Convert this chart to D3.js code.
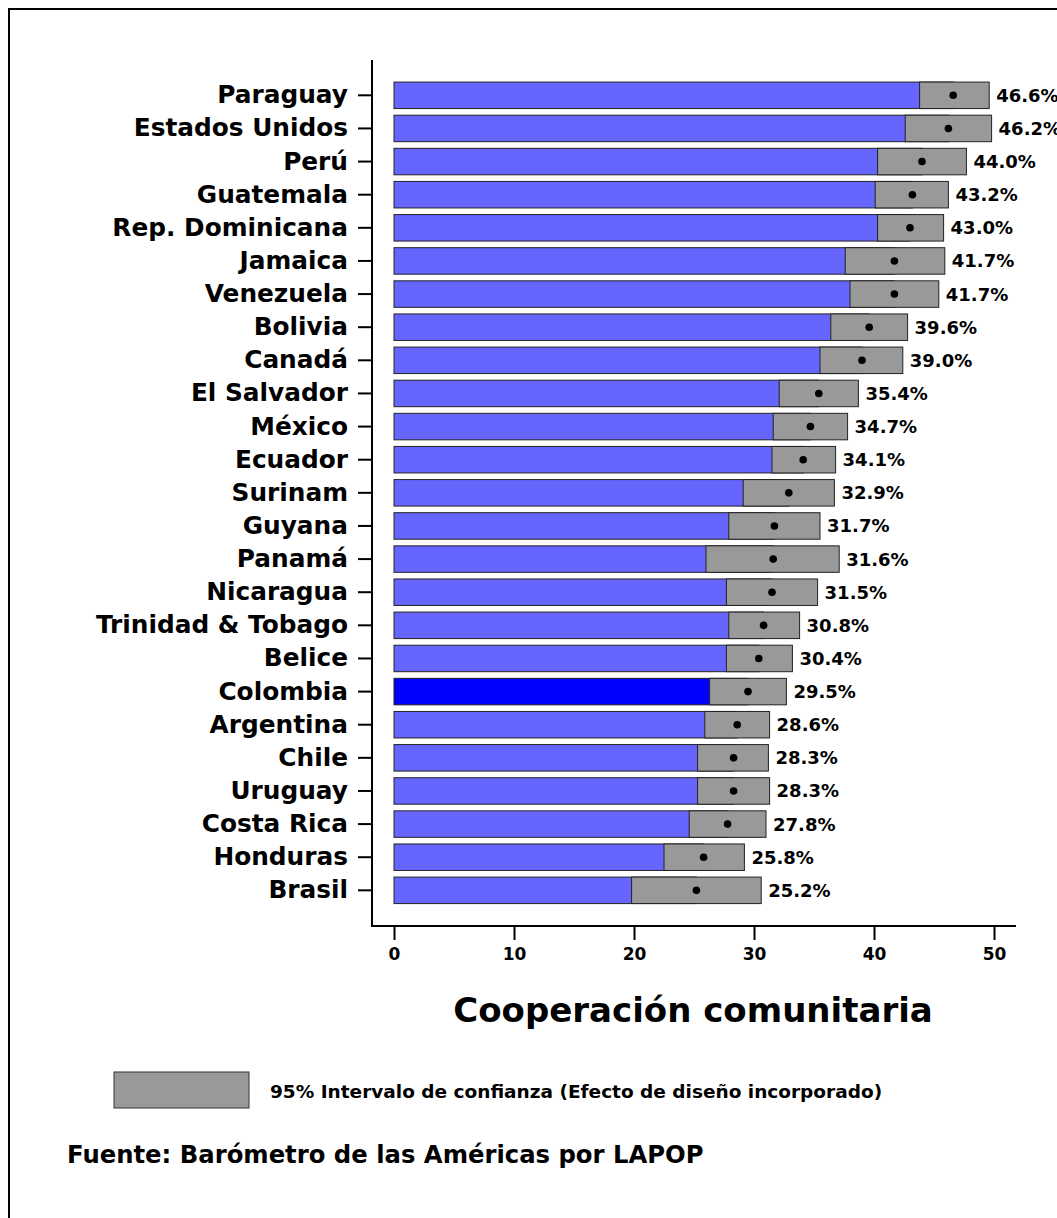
<!DOCTYPE html>
<html>
<head>
<meta charset="utf-8">
<script src="https://cdn.jsdelivr.net/npm/d3@7"></script>
<style>
  html, body { margin: 0; padding: 0; background: #fff; }
  svg { display: block; }
  text { font-family: "DejaVu Sans", Verdana, sans-serif; font-weight: bold; fill: #000; }
</style>
</head>
<body>
<svg id="chart" width="1057" height="1218"></svg>
<script>
const countries = ["Paraguay","Estados Unidos","Perú","Guatemala","Rep. Dominicana","Jamaica","Venezuela","Bolivia","Canadá","El Salvador","México","Ecuador","Surinam","Guyana","Panamá","Nicaragua","Trinidad & Tobago","Belice","Colombia","Argentina","Chile","Uruguay","Costa Rica","Honduras","Brasil"];
const means  = [46.6,46.2,44.0,43.2,43.0,41.7,41.7,39.6,39.0,35.4,34.7,34.1,32.9,31.7,31.6,31.5,30.8,30.4,29.5,28.6,28.3,28.3,27.8,25.8,25.2];
const lower  = [43.8,42.6,40.3,40.1,40.3,37.6,38.0,36.4,35.5,32.1,31.6,31.5,29.1,27.9,26.0,27.7,27.9,27.7,26.3,25.9,25.3,25.3,24.6,22.5,19.8];
const upper  = [49.6,49.8,47.7,46.2,45.8,45.9,45.4,42.8,42.4,38.7,37.8,36.8,36.7,35.5,37.1,35.3,33.8,33.2,32.7,31.3,31.2,31.3,31.0,29.2,30.6];
const highlighted = ["Colombia"];
const xTicks = [0,10,20,30,40,50];
const xTitle = "Cooperación comunitaria";
const legendText = "95% Intervalo de confianza (Efecto de diseño incorporado)";
const sourceText = "Fuente: Barómetro de las Américas por LAPOP";

const data = countries.map((c,i)=>({country:c, mean:means[i], lo:lower[i], hi:upper[i]}));

const svg = d3.select("#chart");

// outer frame (open at right / bottom)
svg.append("rect").attr("x",9).attr("y",9).attr("width",1200).attr("height",1400)
  .attr("fill","none").attr("stroke","#000").attr("stroke-width",2);

const x = d3.scaleLinear().domain([0,50]).range([394,994]);
const y = d3.scaleBand().domain(countries).range([78.75, 906.9]).paddingInner(0.2).paddingOuter(0.1);

const axisX = 372, axisY = 926;

// bars (mean)
svg.append("g").selectAll("rect").data(data).join("rect")
  .attr("x", x(0))
  .attr("y", d=>y(d.country))
  .attr("width", d=>x(d.mean)-x(0))
  .attr("height", y.bandwidth())
  .attr("fill", d=>highlighted.includes(d.country) ? "#0000FF" : "#6666FF")
  .attr("stroke","#222").attr("stroke-width",1);

// CI boxes
svg.append("g").selectAll("rect").data(data).join("rect")
  .attr("x", d=>x(d.lo))
  .attr("y", d=>y(d.country))
  .attr("width", d=>x(d.hi)-x(d.lo))
  .attr("height", y.bandwidth())
  .attr("fill","#999999")
  .attr("stroke","#222").attr("stroke-width",1);

// dots
svg.append("g").selectAll("circle").data(data).join("circle")
  .attr("cx", d=>x(d.mean))
  .attr("cy", d=>y(d.country)+y.bandwidth()/2)
  .attr("r",3.8).attr("fill","#000");

// value labels
svg.append("g").selectAll("text").data(data).join("text")
  .attr("x", d=>x(d.hi)+7)
  .attr("y", d=>y(d.country)+y.bandwidth()/2)
  .attr("dy","0.36em")
  .attr("font-size",18)
  .text(d=>d.mean.toFixed(1)+"%");

// y axis
const gy = svg.append("g").attr("transform",`translate(${axisX},0)`)
  .call(d3.axisLeft(y).tickSize(14).tickPadding(10));
gy.select(".domain").remove();
gy.selectAll(".tick line").attr("stroke","#000").attr("stroke-width",2);
gy.selectAll(".tick text").attr("font-size",24.8).attr("font-family","DejaVu Sans").attr("font-weight","bold").attr("fill","#000");
svg.append("line").attr("x1",axisX).attr("x2",axisX).attr("y1",60).attr("y2",axisY)
  .attr("stroke","#000").attr("stroke-width",2);

// x axis
const gx = svg.append("g").attr("transform",`translate(0,${axisY})`)
  .call(d3.axisBottom(x).tickValues(xTicks).tickFormat(d3.format("d")).tickSize(14).tickPadding(8));
gx.select(".domain").remove();
gx.selectAll(".tick line").attr("stroke","#000").attr("stroke-width",2);
gx.selectAll(".tick text").attr("font-size",17).attr("font-family","DejaVu Sans").attr("font-weight","bold").attr("fill","#000");
svg.append("line").attr("x1",axisX-1).attr("x2",1016).attr("y1",axisY).attr("y2",axisY)
  .attr("stroke","#000").attr("stroke-width",2);

// x title
svg.append("text").attr("x",693).attr("y",1022).attr("text-anchor","middle")
  .attr("font-size",34).text(xTitle);

// legend
svg.append("rect").attr("x",114).attr("y",1072).attr("width",135).attr("height",36)
  .attr("fill","#999999").attr("stroke","#333").attr("stroke-width",1);
svg.append("text").attr("x",270).attr("y",1098).attr("font-size",18.5).text(legendText);

// source
svg.append("text").attr("x",67).attr("y",1163).attr("font-size",24.3).text(sourceText);
</script>
</body>
</html>
